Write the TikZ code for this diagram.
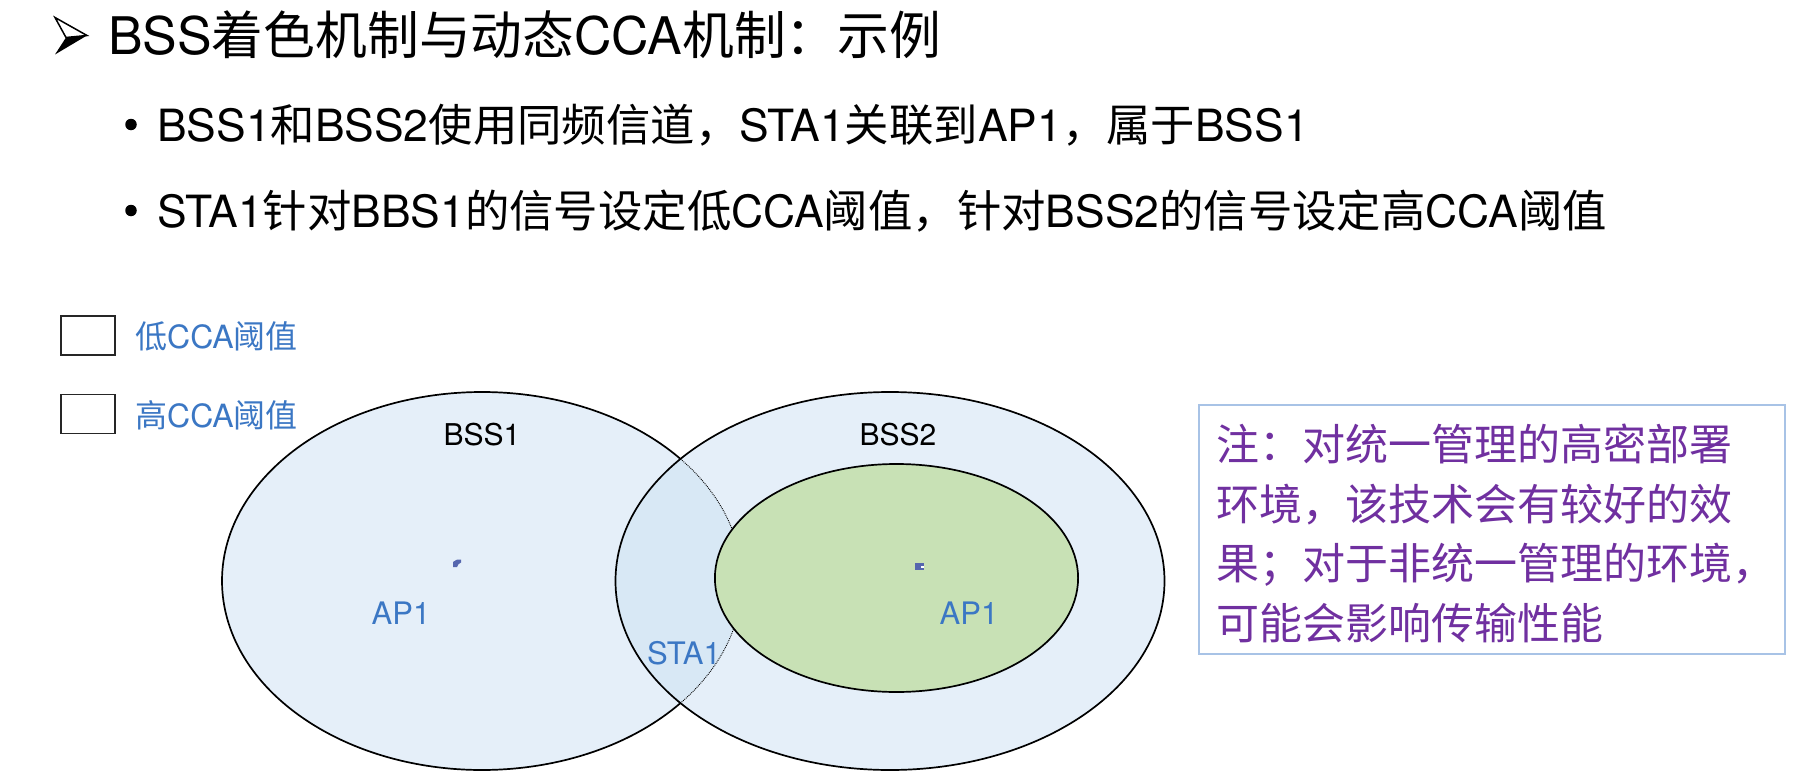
\documentclass[tikz,border=0pt]{standalone}
\usepackage{fontspec}
\setmainfont{TeX Gyre Heros}
\newfontfamily\cjk{Noto Sans CJK SC}
\newcommand\zh[1]{{\cjk #1}}
\definecolor{patblue}{HTML}{E5EFF9}
\definecolor{lensblue}{HTML}{D8E8F5}
\definecolor{greenfill}{HTML}{C8E1B5}
\definecolor{txtblue}{HTML}{3B77C4}
\definecolor{notepurple}{HTML}{7030A0}
\definecolor{noteframe}{HTML}{A8C3E6}
\definecolor{markblue}{HTML}{5566AE}
\begin{document}
\begin{tikzpicture}[x=1pt,y=-1pt,
  title/.style={anchor=base west,inner sep=0pt,font=\fontsize{51.8}{60}\selectfont},
  bullettext/.style={anchor=base west,inner sep=0pt,font=\fontsize{44.4}{52}\selectfont},
  bulletdot/.style={circle,fill=black,inner sep=0pt,minimum size=11.5pt},
  legbox/.style={draw=black!85,line width=1.2pt,minimum width=54pt,minimum height=39pt,inner sep=0pt},
  leglabel/.style={anchor=base west,inner sep=0pt,text=txtblue,font=\fontsize{32}{38}\selectfont},
  bsslabel/.style={anchor=base,inner sep=0pt,font=\fontsize{30}{36}\selectfont},
  aplabel/.style={anchor=base,inner sep=0pt,text=txtblue,font=\fontsize{31}{36}\selectfont},
  notetext/.style={anchor=west,inner sep=0pt,text=notepurple,font=\cjk\fontsize{43}{50}\selectfont},
  edge/.style={line width=1.7pt,draw=black}
]
\useasboundingbox (0,0) rectangle (1808,784);
\fill[white] (0,0) rectangle (1808,784);

% title arrow
\draw[line width=1.5pt,line join=miter] (55,17.5) -- (87,35.5) -- (66,37.5) -- cycle;
\fill[black] (66,37.5) -- (87,35.5) -- (55,54.5) -- cycle;
\node[title] (title) at (108,55) {BSS\zh{着色机制与动态}CCA\zh{机制：示例}};

% bullets
\node[bulletdot] (b1) at (131,124.5) {};
\node[bullettext] (l1) at (157,141) {BSS1\zh{和}BSS2\zh{使用同频信道，}STA1\zh{关联到}AP1\zh{，属于}BSS1};
\node[bulletdot] (b2) at (131,210.5) {};
\node[bullettext] (l2) at (157,227) {STA1\zh{针对}BBS1\zh{的信号设定低}CCA\zh{阈值，针对}BSS2\zh{的信号设定高}CCA\zh{阈值}};

% legend
\node[legbox] (lb1) at (88,335.5) {};
\node[leglabel] (lt1) at (135,348) {\zh{低}CCA\zh{阈值}};
\node[legbox] (lb2) at (88,414) {};
\node[leglabel] (lt2) at (135,427) {\zh{高}CCA\zh{阈值}};

% BSS areas
\coordinate (c1) at (482,581);
\coordinate (c2) at (890,581);
\coordinate (c3) at (896.5,578);
\fill[patblue] (c1) ellipse [x radius=260, y radius=189];
\fill[patblue] (c2) ellipse [x radius=274.5, y radius=189];
\begin{scope}
  \clip (c1) ellipse [x radius=260, y radius=189];
  \fill[lensblue] (c2) ellipse [x radius=274.5, y radius=189];
\end{scope}
% BSS1 outline: solid outside BSS2, dotted inside
\draw[edge] (c1) ++(40.2:260 and 189) arc [start angle=40.2, end angle=319.8, x radius=260, y radius=189];
\begin{scope}
  \clip (c2) ellipse [x radius=274.5, y radius=189];
  \draw[densely dotted,line width=0.9pt] (c1) ellipse [x radius=260, y radius=189];
\end{scope}
\draw[edge] (c2) ellipse [x radius=274.5, y radius=189];
\fill[greenfill] (c3) ellipse [x radius=181.6, y radius=114];
\draw[edge] (c3) ellipse [x radius=181.6, y radius=114];

% small marks
\fill[markblue] (453,567) -- (453,562) to[bend left=25] (461,559.5) -- (461,562.5) to[bend right=25] (457,567) -- cycle;
\fill[markblue] (915,563) rectangle (924,570);
\fill[white] (921,566) rectangle (924,568);

% labels
\node[bsslabel] (bss1) at (482,445) {BSS1};
\node[bsslabel] (bss2) at (898,445) {BSS2};
\node[aplabel] (ap1a) at (401,624) {AP1};
\node[aplabel] (sta1) at (684,664) {STA1};
\node[aplabel] (ap1b) at (969,624) {AP1};

% note
\node[draw=noteframe,line width=2pt,minimum width=586pt,minimum height=249pt,inner sep=0pt] (note) at (1492,529.5) {};
\node[notetext] (n1) at (1216,444) {注：对统一管理的高密部署};
\node[notetext] (n2) at (1216,505) {环境，该技术会有较好的效};
\node[notetext] (n3) at (1216,565) {果；对于非统一管理的环境，};
\node[notetext] (n4) at (1216,623) {可能会影响传输性能};
\end{tikzpicture}
\end{document}
